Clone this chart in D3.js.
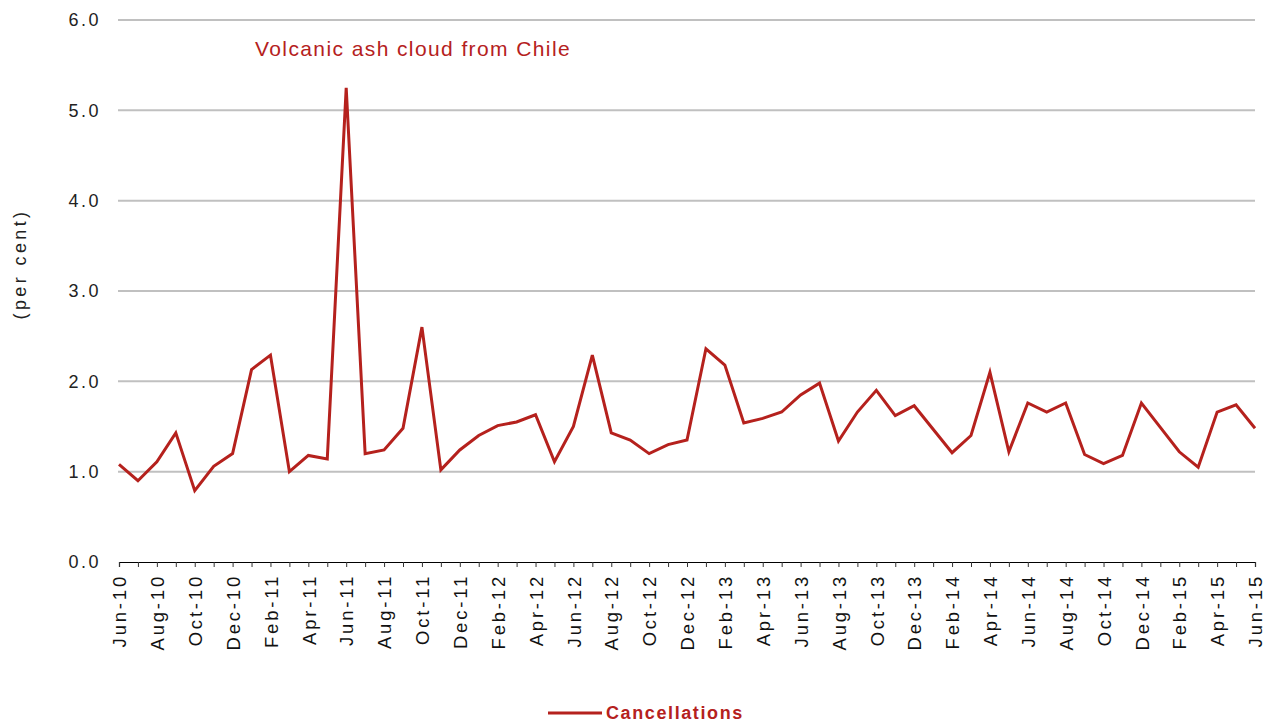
<!DOCTYPE html>
<html>
<head>
<meta charset="utf-8">
<script src="https://cdn.jsdelivr.net/npm/d3@7"></script>
<style>
  html, body { margin: 0; padding: 0; background: #ffffff; }
  svg { display: block; }
  text { font-family: "Liberation Sans", Arial, sans-serif; }
</style>
</head>
<body>
<svg id="chart" width="1275" height="724"></svg>
<script>
// ---- data ----
const monthNames = ["Jan","Feb","Mar","Apr","May","Jun","Jul","Aug","Sep","Oct","Nov","Dec"];
const startYear = 2010, startMonth = 5; // Jun-10
const cancellations = [
  1.08, 0.90, 1.11, 1.43, 0.79, 1.06, 1.20,
  2.13, 2.29, 1.00, 1.18, 1.14, 5.25, 1.20, 1.24, 1.48, 2.60, 1.02, 1.24,
  1.40, 1.51, 1.55, 1.63, 1.11, 1.50, 2.29, 1.43, 1.35, 1.20, 1.30, 1.35,
  2.36, 2.18, 1.54, 1.59, 1.66, 1.85, 1.98, 1.34, 1.66, 1.90, 1.62, 1.73,
  1.47, 1.21, 1.40, 2.10, 1.22, 1.76, 1.66, 1.76, 1.19, 1.09, 1.18, 1.76,
  1.49, 1.22, 1.05, 1.66, 1.74, 1.48
];
const categories = cancellations.map((_, i) => {
  const m = (startMonth + i) % 12;
  const y = startYear + Math.floor((startMonth + i) / 12);
  return monthNames[m] + "-" + String(y).slice(2);
});
const yTicks = [0, 1, 2, 3, 4, 5, 6];
const seriesName = "Cancellations";
const annotation = "Volcanic ash cloud from Chile";

// ---- layout ----
const svg = d3.select("#chart");
const margin = { left: 119, right: 20, top: 20, bottom: 162 };
const W = 1275, H = 724;
const x = d3.scalePoint().domain(categories).range([margin.left, W - margin.right]);
const y = d3.scaleLinear().domain([0, 6]).range([H - margin.bottom, margin.top]);
const red = "#b5211d";

// gridlines
svg.append("g")
  .selectAll("line")
  .data(yTicks.filter(d => d > 0))
  .join("line")
  .attr("x1", margin.left - 1)
  .attr("x2", W - margin.right)
  .attr("y1", d => y(d))
  .attr("y2", d => y(d))
  .attr("stroke", "#c0c0c0")
  .attr("stroke-width", 2);

// y labels
svg.append("g")
  .selectAll("text")
  .data(yTicks)
  .join("text")
  .attr("x", 101)
  .attr("y", d => y(d))
  .attr("dy", "0.36em")
  .attr("text-anchor", "end")
  .attr("font-size", 18)
  .attr("letter-spacing", "2.5px")
  .attr("fill", "#222")
  .text(d => d3.format(".1f")(d));

// y title
svg.append("text")
  .attr("transform", `translate(26, ${(y(0) + y(6)) / 2 - 27}) rotate(-90)`)
  .attr("text-anchor", "middle")
  .attr("font-size", 18)
  .attr("letter-spacing", "3.4px")
  .attr("fill", "#222")
  .text("(per cent)");

// x axis
const xAxis = d3.axisBottom(x)
  .tickSize(5)
  .tickFormat((d, i) => (i % 2 === 0 ? d : ""));
const gx = svg.append("g")
  .attr("transform", `translate(0, ${y(0)})`)
  .call(xAxis);
gx.select(".domain").attr("stroke", "#000").attr("stroke-width", 1.2);
gx.selectAll(".tick line").attr("stroke", "#333");
gx.selectAll(".tick text")
  .attr("font-size", 18.5)
  .attr("letter-spacing", "2.8px")
  .attr("fill", "#111")
  .attr("font-family", "Liberation Sans, Arial, sans-serif")
  .attr("transform", "rotate(-90)")
  .attr("text-anchor", "end")
  .attr("x", -12)
  .attr("y", 0)
  .attr("dy", "0.36em");

// line
const line = d3.line()
  .x((d, i) => x(categories[i]))
  .y(d => y(d));
svg.append("path")
  .datum(cancellations)
  .attr("fill", "none")
  .attr("stroke", red)
  .attr("stroke-width", 3)
  .attr("stroke-linejoin", "miter")
  .attr("d", line);

// annotation
svg.append("text")
  .attr("x", 255)
  .attr("y", 56)
  .attr("font-family", "DejaVu Sans, Verdana, sans-serif")
  .attr("font-size", 21)
  .attr("letter-spacing", "1.4px")
  .attr("fill", red)
  .text(annotation);

// legend
const lg = svg.append("g").attr("transform", "translate(548, 713)");
lg.append("line").attr("x1", 0).attr("x2", 54).attr("y1", 0).attr("y2", 0)
  .attr("stroke", red).attr("stroke-width", 3);
lg.append("text").attr("x", 58).attr("y", 0).attr("dy", "0.36em")
  .attr("font-family", "DejaVu Sans, Verdana, sans-serif")
  .attr("font-size", 18).attr("font-weight", "bold").attr("letter-spacing", "1.6px").attr("fill", red)
  .text(seriesName);
</script>
</body>
</html>
